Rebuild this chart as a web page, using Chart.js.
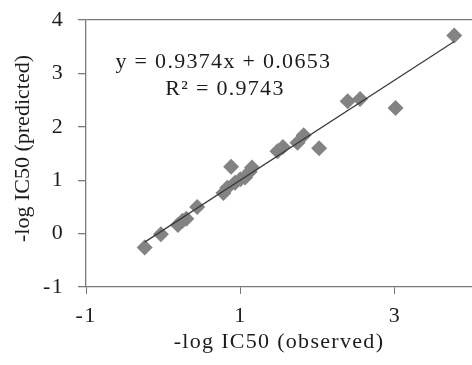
<!DOCTYPE html>
<html lang="en">
<head>
<meta charset="UTF-8">
<title>-log IC50 observed vs predicted</title>
<script src="https://cdn.jsdelivr.net/npm/chart.js"></script>
<style>
  body { margin: 0; background: #fff; }
  #wrap { width: 472px; height: 365px; }
</style>
</head>
<body>
<div id="wrap"><canvas id="ic50Chart" width="472" height="365"></canvas></div>
<script>
// values
const observed  = [-0.24, -0.03, 0.19, 0.25, 0.30, 0.44, 0.78, 0.83, 0.88, 0.93, 1.00, 1.06, 1.12, 1.15, 1.48, 1.55, 1.74, 1.82, 2.02, 2.39, 2.55, 3.01, 3.77];
const predicted = [-0.26, -0.01, 0.16, 0.24, 0.28, 0.50, 0.76, 0.86, 1.25, 0.95, 1.02, 1.05, 1.16, 1.24, 1.54, 1.62, 1.70, 1.84, 1.60, 2.48, 2.52, 2.35, 3.71];
const xTicks = [-1, 1, 3];
const yTicks = [-1, 0, 1, 2, 3, 4];

// linear trend shown on the chart
const slope = 0.9374;
const intercept = 0.0653;
const trendX = [-0.24, 3.77];
const eqLabel = 'y = 0.9374x + 0.0653';
const r2Label = 'R\u00b2 = 0.9743';
const xTitle = '-log IC50 (observed)';
const yTitle = '-log IC50 (predicted)';

const serif = "'Liberation Serif', 'Times New Roman', serif";
const textColor = '#1c1c1c';
const axisColor = '#7a7a7a';

const points = observed.map((x, i) => ({ x: x, y: predicted[i] }));
const trend = trendX.map(x => ({ x: x, y: slope * x + intercept }));

// horizontal text in the reference runs wider than Times, so space it out a bit
const wideText = {
    id: 'wideText',
    beforeDraw(chart) { chart.ctx.letterSpacing = '1.3px'; }
};

// equation, R² and the vertical axis title (that one without extra spacing)
const extraText = {
    id: 'extraText',
    afterDraw(chart) {
        const ctx = chart.ctx;
        const xs = chart.scales.x, ys = chart.scales.y;
        ctx.save();
        ctx.font = '22px ' + serif;
        ctx.fillStyle = textColor;
        ctx.textAlign = 'center';
        ctx.textBaseline = 'middle';
        ctx.fillText(eqLabel, xs.getPixelForValue(0.78), ys.getPixelForValue(3.21));
        ctx.fillText(r2Label, xs.getPixelForValue(0.80), ys.getPixelForValue(2.71));

        ctx.letterSpacing = '0px';
        ctx.translate(23, (chart.chartArea.top + chart.chartArea.bottom) / 2 - 5);
        ctx.rotate(-Math.PI / 2);
        ctx.fillText(yTitle, 0, 0);
        ctx.restore();
    }
};

new Chart(document.getElementById('ic50Chart'), {
    type: 'scatter',
    data: {
        datasets: [
            {
                data: points,
                pointStyle: 'rectRot',
                pointRadius: 8,
                pointBorderWidth: 0,
                backgroundColor: '#838383',
                borderColor: '#838383',
                order: 2
            },
            {
                type: 'line',
                data: trend,
                borderColor: '#3a3a3a',
                borderWidth: 1.2,
                pointRadius: 0,
                fill: false,
                order: 1
            }
        ]
    },
    options: {
        responsive: false,
        animation: false,
        layout: { autoPadding: false, padding: { top: 20, right: 0, left: 0, bottom: 0 } },
        plugins: {
            legend: { display: false },
            tooltip: { enabled: false }
        },
        scales: {
            x: {
                type: 'linear',
                min: -1,
                max: 4,
                afterBuildTicks: s => { s.ticks = xTicks.map(v => ({ value: v })); },
                afterFit: s => { s.height = 78; s.paddingLeft = 0; s.paddingRight = 0; },
                ticks: { color: textColor, font: { family: serif, size: 22 }, padding: 9 },
                grid: { drawOnChartArea: false, drawTicks: true, tickLength: 7, tickColor: axisColor },
                border: { color: axisColor, width: 1.3 },
                title: { display: true, text: xTitle, color: textColor,
                         font: { family: serif, size: 22 }, padding: { top: 0, bottom: 10 } }
            },
            y: {
                min: -1,
                max: 4,
                afterBuildTicks: s => { s.ticks = yTicks.map(v => ({ value: v })); },
                afterFit: s => { s.width = 86; s.paddingTop = 0; s.paddingBottom = 0; },
                ticks: { color: textColor, font: { family: serif, size: 22 }, padding: 14 },
                grid: {
                    color: c => (c.tick && c.tick.value === 4) ? axisColor : 'rgba(0,0,0,0)',
                    lineWidth: 1.3,
                    tickLength: 8,
                    tickColor: axisColor
                },
                border: { color: axisColor, width: 1.3 }
            }
        }
    },
    plugins: [wideText, extraText]
});
</script>
</body>
</html>
